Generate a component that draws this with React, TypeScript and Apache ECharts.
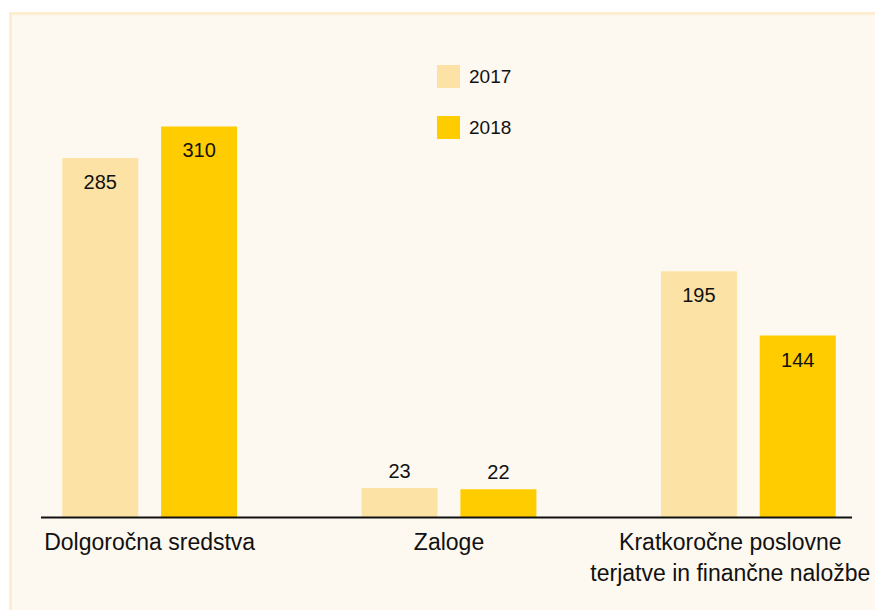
import React, { useEffect, useRef } from "react";
import * as echarts from "echarts";

const categories = [
  "Dolgoročna sredstva",
  "Zaloge",
  "Kratkoročne poslovne\nterjatve in finančne naložbe",
];
const seriesNames = ["2017", "2018"];
const values2017 = [285, 23, 195];
const values2018 = [310, 22, 144];

const FONT = "'Liberation Sans', Arial, sans-serif";

export default function App() {
  const ref = useRef<HTMLDivElement>(null);
  useEffect(() => {
    if (!ref.current) return;
    const chart = echarts.init(ref.current, null, { renderer: "svg" });
    const labelFor = (v: number) =>
      v < 50
        ? { show: true, position: "top", distance: 7 }
        : { show: true, position: "insideTop", distance: 14 };
    const mk = (arr: number[]) =>
      arr.map((v) => ({ value: v, label: labelFor(v) }));
    chart.setOption({
      animation: false,
      textStyle: { fontFamily: FONT },
      graphic: [
        {
          type: "rect",
          z: -10,
          silent: true,
          shape: { x: 10.5, y: 13.5, width: 900, height: 620 },
          style: { fill: "#fef9f0", stroke: "#fdeed0", lineWidth: 3 },
        },
        {
          type: "line",
          z: 10,
          silent: true,
          shape: { x1: 41, y1: 517.5, x2: 852, y2: 517.5 },
          style: { stroke: "#111111", lineWidth: 2 },
        },
      ],
      legend: {
        orient: "vertical",
        left: 432,
        top: 60,
        itemWidth: 23,
        itemHeight: 23,
        itemGap: 28,
        icon: "rect",
        data: seriesNames,
        textStyle: { fontSize: 19, color: "#111111", fontFamily: FONT, padding: [5, 0, 0, 4] },
      },
      grid: { left: 0, width: 898, top: 13, bottom: 93, outerBoundsMode: "none", containLabel: false },
      xAxis: {
        type: "category",
        data: [
          categories[0],
          categories[1],
          { value: categories[2], textStyle: { padding: [0, 36, 0, 0] } },
        ],
        axisLine: { show: false },
        axisTick: { show: false },
        axisLabel: {
          margin: 9,
          fontSize: 23,
          lineHeight: 31,
          color: "#111111",
          fontFamily: FONT,
          interval: 0,
          hideOverlap: false,
        },
      },
      yAxis: {
        type: "value",
        min: 0,
        max: 400,
        show: false,
        splitLine: { show: false },
      },
      series: [
        {
          name: seriesNames[0],
          type: "bar",
          barWidth: 76,
          barGap: "30%",
          itemStyle: { color: "#fde2a6" },
          label: { fontSize: 20, color: "#111111", fontFamily: FONT },
          data: mk(values2017),
        },
        {
          name: seriesNames[1],
          type: "bar",
          barWidth: 76,
          barGap: "30%",
          itemStyle: { color: "#ffcc00" },
          label: { fontSize: 20, color: "#111111", fontFamily: FONT },
          data: mk(values2018),
        },
      ],
    });
    return () => chart.dispose();
  }, []);
  return (
    <div
      ref={ref}
      style={{ position: "absolute", left: 0, top: 0, width: 875, height: 610 }}
    />
  );
}
